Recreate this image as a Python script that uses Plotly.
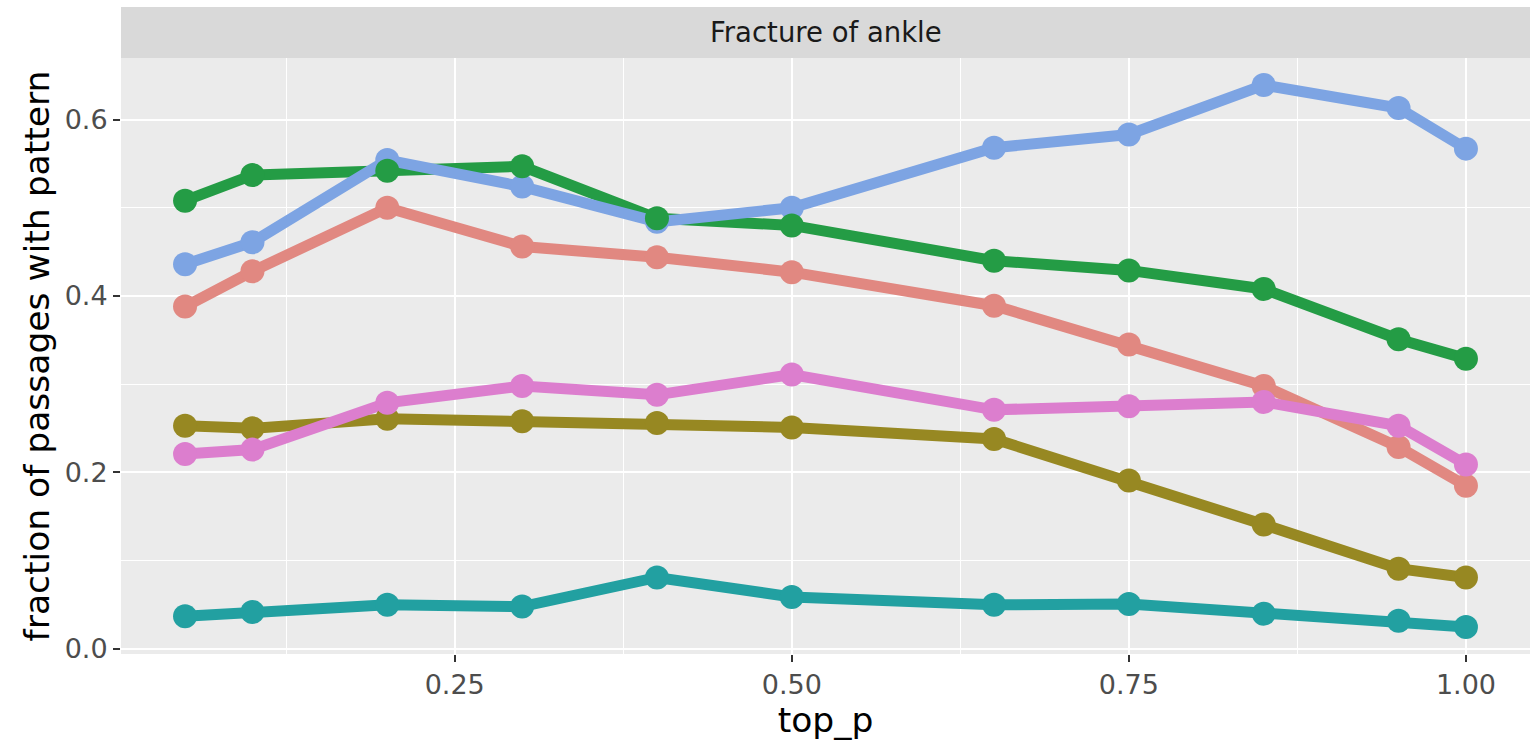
import plotly.graph_objects as go

top_p = [0.05, 0.1, 0.2, 0.3, 0.4, 0.5, 0.65, 0.75, 0.85, 0.95, 1.0]

salmon = [0.388, 0.428, 0.500, 0.456, 0.444, 0.427, 0.389, 0.345, 0.298, 0.229, 0.185]
olive = [0.253, 0.250, 0.261, 0.258, 0.256, 0.251, 0.238, 0.191, 0.141, 0.091, 0.081]
green = [0.508, 0.537, 0.542, 0.547, 0.488, 0.480, 0.440, 0.429, 0.408, 0.351, 0.329]
teal = [0.037, 0.042, 0.050, 0.048, 0.081, 0.059, 0.050, 0.051, 0.040, 0.032, 0.025]
blue = [0.436, 0.461, 0.554, 0.524, 0.484, 0.500, 0.568, 0.583, 0.639, 0.613, 0.567]
pink = [0.221, 0.226, 0.279, 0.298, 0.288, 0.311, 0.271, 0.275, 0.280, 0.253, 0.209]

x_ticks = [0.25, 0.50, 0.75, 1.00]
x_tick_labels = ["0.25", "0.50", "0.75", "1.00"]
y_ticks = [0.0, 0.2, 0.4, 0.6]
y_tick_labels = ["0.0", "0.2", "0.4", "0.6"]
x_minor = [0.125, 0.375, 0.625, 0.875]
y_minor = [0.1, 0.3, 0.5]

series = [
    ("salmon", salmon, "#E18881"),
    ("olive", olive, "#978822"),
    ("green", green, "#249C45"),
    ("teal", teal, "#22A0A1"),
    ("blue", blue, "#7DA4E3"),
    ("pink", pink, "#DC7ECE"),
]
line_order = ["salmon", "olive", "green", "teal", "blue", "pink"]
point_order = ["salmon", "olive", "teal", "blue", "pink", "green"]
lookup = {n: (v, c) for n, v, c in series}

fig = go.Figure()
for n in line_order:
    v, c = lookup[n]
    fig.add_trace(go.Scatter(x=top_p, y=v, mode="lines", line=dict(color=c, width=11),
                             showlegend=False, hoverinfo="skip"))
for n in point_order:
    v, c = lookup[n]
    fig.add_trace(go.Scatter(x=top_p, y=v, mode="markers", marker=dict(color=c, size=24),
                             showlegend=False, name=n))

all_y = salmon + olive + green + teal + blue + pink
ymin, ymax = min(all_y), max(all_y)
yr = ymax - ymin
xmin, xmax = min(top_p), max(top_p)
xr = xmax - xmin

font_family = "DejaVu Sans"
tick_size = 27
title_size = 34.5
fig.update_layout(
    width=1532, height=740,
    margin=dict(l=121, r=2, t=58, b=86),
    paper_bgcolor="white",
    plot_bgcolor="#EBEBEB",
    font=dict(family=font_family, color="#4D4D4D"),
    xaxis=dict(
        range=[xmin - 0.05 * xr, xmax + 0.05 * xr],
        tickvals=x_ticks, ticktext=x_tick_labels,
        showgrid=True, gridcolor="white", gridwidth=2,
        zeroline=False, showline=False,
        ticks="outside", ticklen=7, tickwidth=2, tickcolor="#333333",
        tickfont=dict(size=tick_size, color="#4D4D4D", family=font_family),
        minor=dict(tickvals=x_minor, showgrid=True, gridcolor="white", gridwidth=1, ticks=""),
        title=dict(text="top_p", font=dict(size=title_size, color="black", family=font_family), standoff=0),
    ),
    yaxis=dict(
        range=[ymin - 0.05 * yr, ymax + 0.05 * yr],
        tickvals=y_ticks, ticktext=y_tick_labels,
        showgrid=True, gridcolor="white", gridwidth=2,
        zeroline=False, showline=False,
        ticks="outside", ticklen=7, tickwidth=2, tickcolor="#333333",
        tickfont=dict(size=tick_size, color="#4D4D4D", family=font_family),
        minor=dict(tickvals=y_minor, showgrid=True, gridcolor="white", gridwidth=1, ticks=""),
        title=dict(text="fraction of passages with pattern", font=dict(size=title_size, color="black", family=font_family), standoff=4),
    ),
    shapes=[dict(type="rect", xref="paper", yref="paper", x0=0, x1=1, y0=1, y1=1 + 51 / 596,
                 fillcolor="#D9D9D9", line=dict(width=0), layer="below")],
    annotations=[dict(text="Fracture of ankle", xref="paper", yref="paper", x=0.5, y=1 + 25.5 / 596,
                      showarrow=False, xanchor="center", yanchor="middle",
                      font=dict(size=27.5, color="#1A1A1A", family=font_family))],
)

fig.write_html("out.html")
